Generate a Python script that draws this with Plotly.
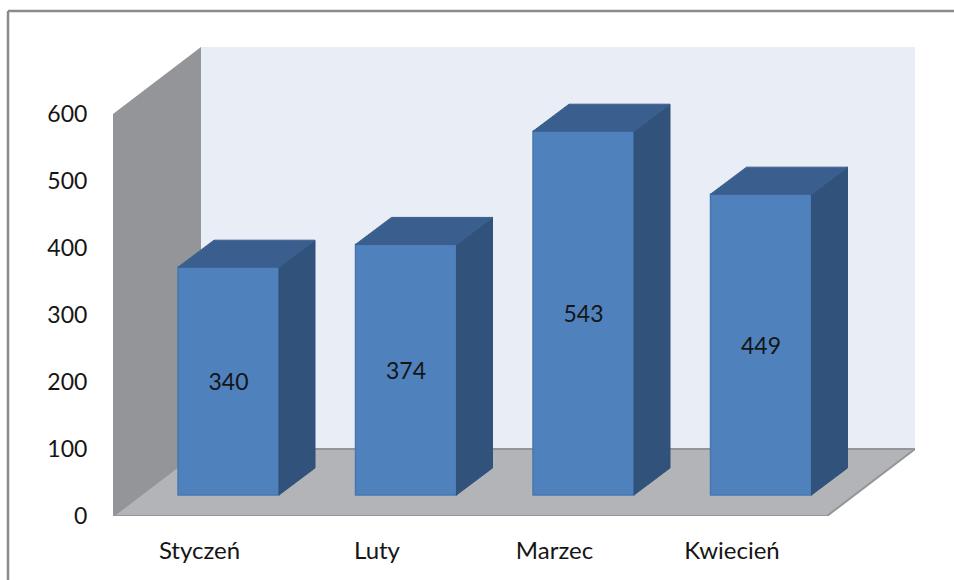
import plotly.graph_objects as go

categories = ["Styczeń", "Luty", "Marzec", "Kwiecień"]
values = [340, 374, 543, 449]
y_ticks = [0, 100, 200, 300, 400, 500, 600]

W, H = 954, 580
L, R, T, B = 113, 915, 47, 516      # plot area in page pixels
PX_PER_X = 177.5                    # pixels per category step
PX_PER_Y = 0.67                     # pixels per value unit
X0_PX = 228.5                       # page x of the first category centre

x_lo = (L - X0_PX) / PX_PER_X
x_hi = (R - X0_PX) / PX_PER_X
y_hi = (B - T) / PX_PER_Y

bar_w = 101 / PX_PER_X
base = 21 / PX_PER_Y                # bars stand forward on the floor
dep_x = 36 / PX_PER_X               # bar depth
dep_y = 27 / PX_PER_Y
wall_x = x_lo + 88 / PX_PER_X       # back wall's left edge
wall_y = 67 / PX_PER_Y              # back wall's floor line
label_shift = -29 / PX_PER_X

FRONT, SIDE, TOP = "#4F81BD", "#31527A", "#3A5F8E"
WALL, FLOOR, BACK, EDGE = "#939598", "#B2B4B7", "#E9EDF5", "#939598"
INK = "#151515"
FONT = "Lato"


def poly(xs, ys, color, line=None):
    path = "M " + " L ".join(f"{a},{b}" for a, b in zip(xs, ys)) + " Z"
    return dict(type="path", xref="x", yref="y", path=path, fillcolor=color,
                line=dict(color=line or color, width=2 if line else 0), layer="below")


shapes = [
    poly([wall_x, x_hi, x_hi, wall_x], [wall_y, wall_y, y_hi, y_hi], BACK),
    poly([x_lo, wall_x, wall_x, x_lo], [0, wall_y, y_hi, 600], WALL),
    poly([x_lo, x_hi - 88 / PX_PER_X, x_hi, wall_x], [0, 0, wall_y, wall_y], FLOOR, EDGE),
    # outer frame, cut off by the picture's bottom and right edges
    dict(type="line", xref="paper", yref="paper", x0=(8 - L) / (R - L), x1=(W - L) / (R - L),
         y0=(B - 11) / (B - T), y1=(B - 11) / (B - T), line=dict(color="#8A8A8A", width=2.5)),
    dict(type="line", xref="paper", yref="paper", x0=(8 - L) / (R - L), x1=(8 - L) / (R - L),
         y0=(B - 11) / (B - T), y1=(B - H) / (B - T), line=dict(color="#8A8A8A", width=2.5)),
]

fig = go.Figure()
for i, v in enumerate(values):
    xl, xr = i - bar_w / 2, i + bar_w / 2
    yb, yt = base, base + v
    fig.add_trace(go.Scatter(x=[xr, xr + dep_x, xr + dep_x, xr, xr],
                             y=[yb, yb + dep_y, yt + dep_y, yt, yb],
                             fill="toself", fillcolor=SIDE, mode="lines",
                             line=dict(color=SIDE, width=1), hoverinfo="skip"))
    fig.add_trace(go.Scatter(x=[xl, xl + dep_x, xr + dep_x, xr, xl],
                             y=[yt, yt + dep_y, yt + dep_y, yt, yt],
                             fill="toself", fillcolor=TOP, mode="lines",
                             line=dict(color=TOP, width=1), hoverinfo="skip"))

fig.add_trace(go.Bar(x=list(range(len(values))), y=values, base=base, width=bar_w,
                     marker=dict(color=FRONT, line=dict(color="#4777B2", width=1.5)),
                     text=[str(v) for v in values], textposition="inside",
                     insidetextanchor="middle", textangle=0,
                     textfont=dict(family=FONT, size=23, color=INK)))

fig.update_layout(
    width=W, height=H, autosize=False, showlegend=False,
    margin=dict(l=L, r=W - R, t=T, b=H - B, pad=0),
    paper_bgcolor="white", plot_bgcolor="white", shapes=shapes,
    xaxis=dict(range=[x_lo, x_hi], showgrid=False, zeroline=False, showline=False,
               tickmode="array", tickvals=[i + label_shift for i in range(len(categories))],
               ticktext=categories, ticks="outside", ticklen=13, tickcolor="rgba(0,0,0,0)",
               tickfont=dict(family=FONT, size=24, color=INK)),
    yaxis=dict(range=[0, y_hi], showgrid=False, zeroline=False, showline=False,
               tickmode="array", tickvals=y_ticks, ticktext=[str(t) for t in y_ticks],
               ticks="outside", ticklen=20, tickcolor="rgba(0,0,0,0)",
               tickfont=dict(family=FONT, size=23, color=INK)),
)

fig.write_html("out.html", config={"displayModeBar": False},
               post_script="document.body.style.margin='0';")
